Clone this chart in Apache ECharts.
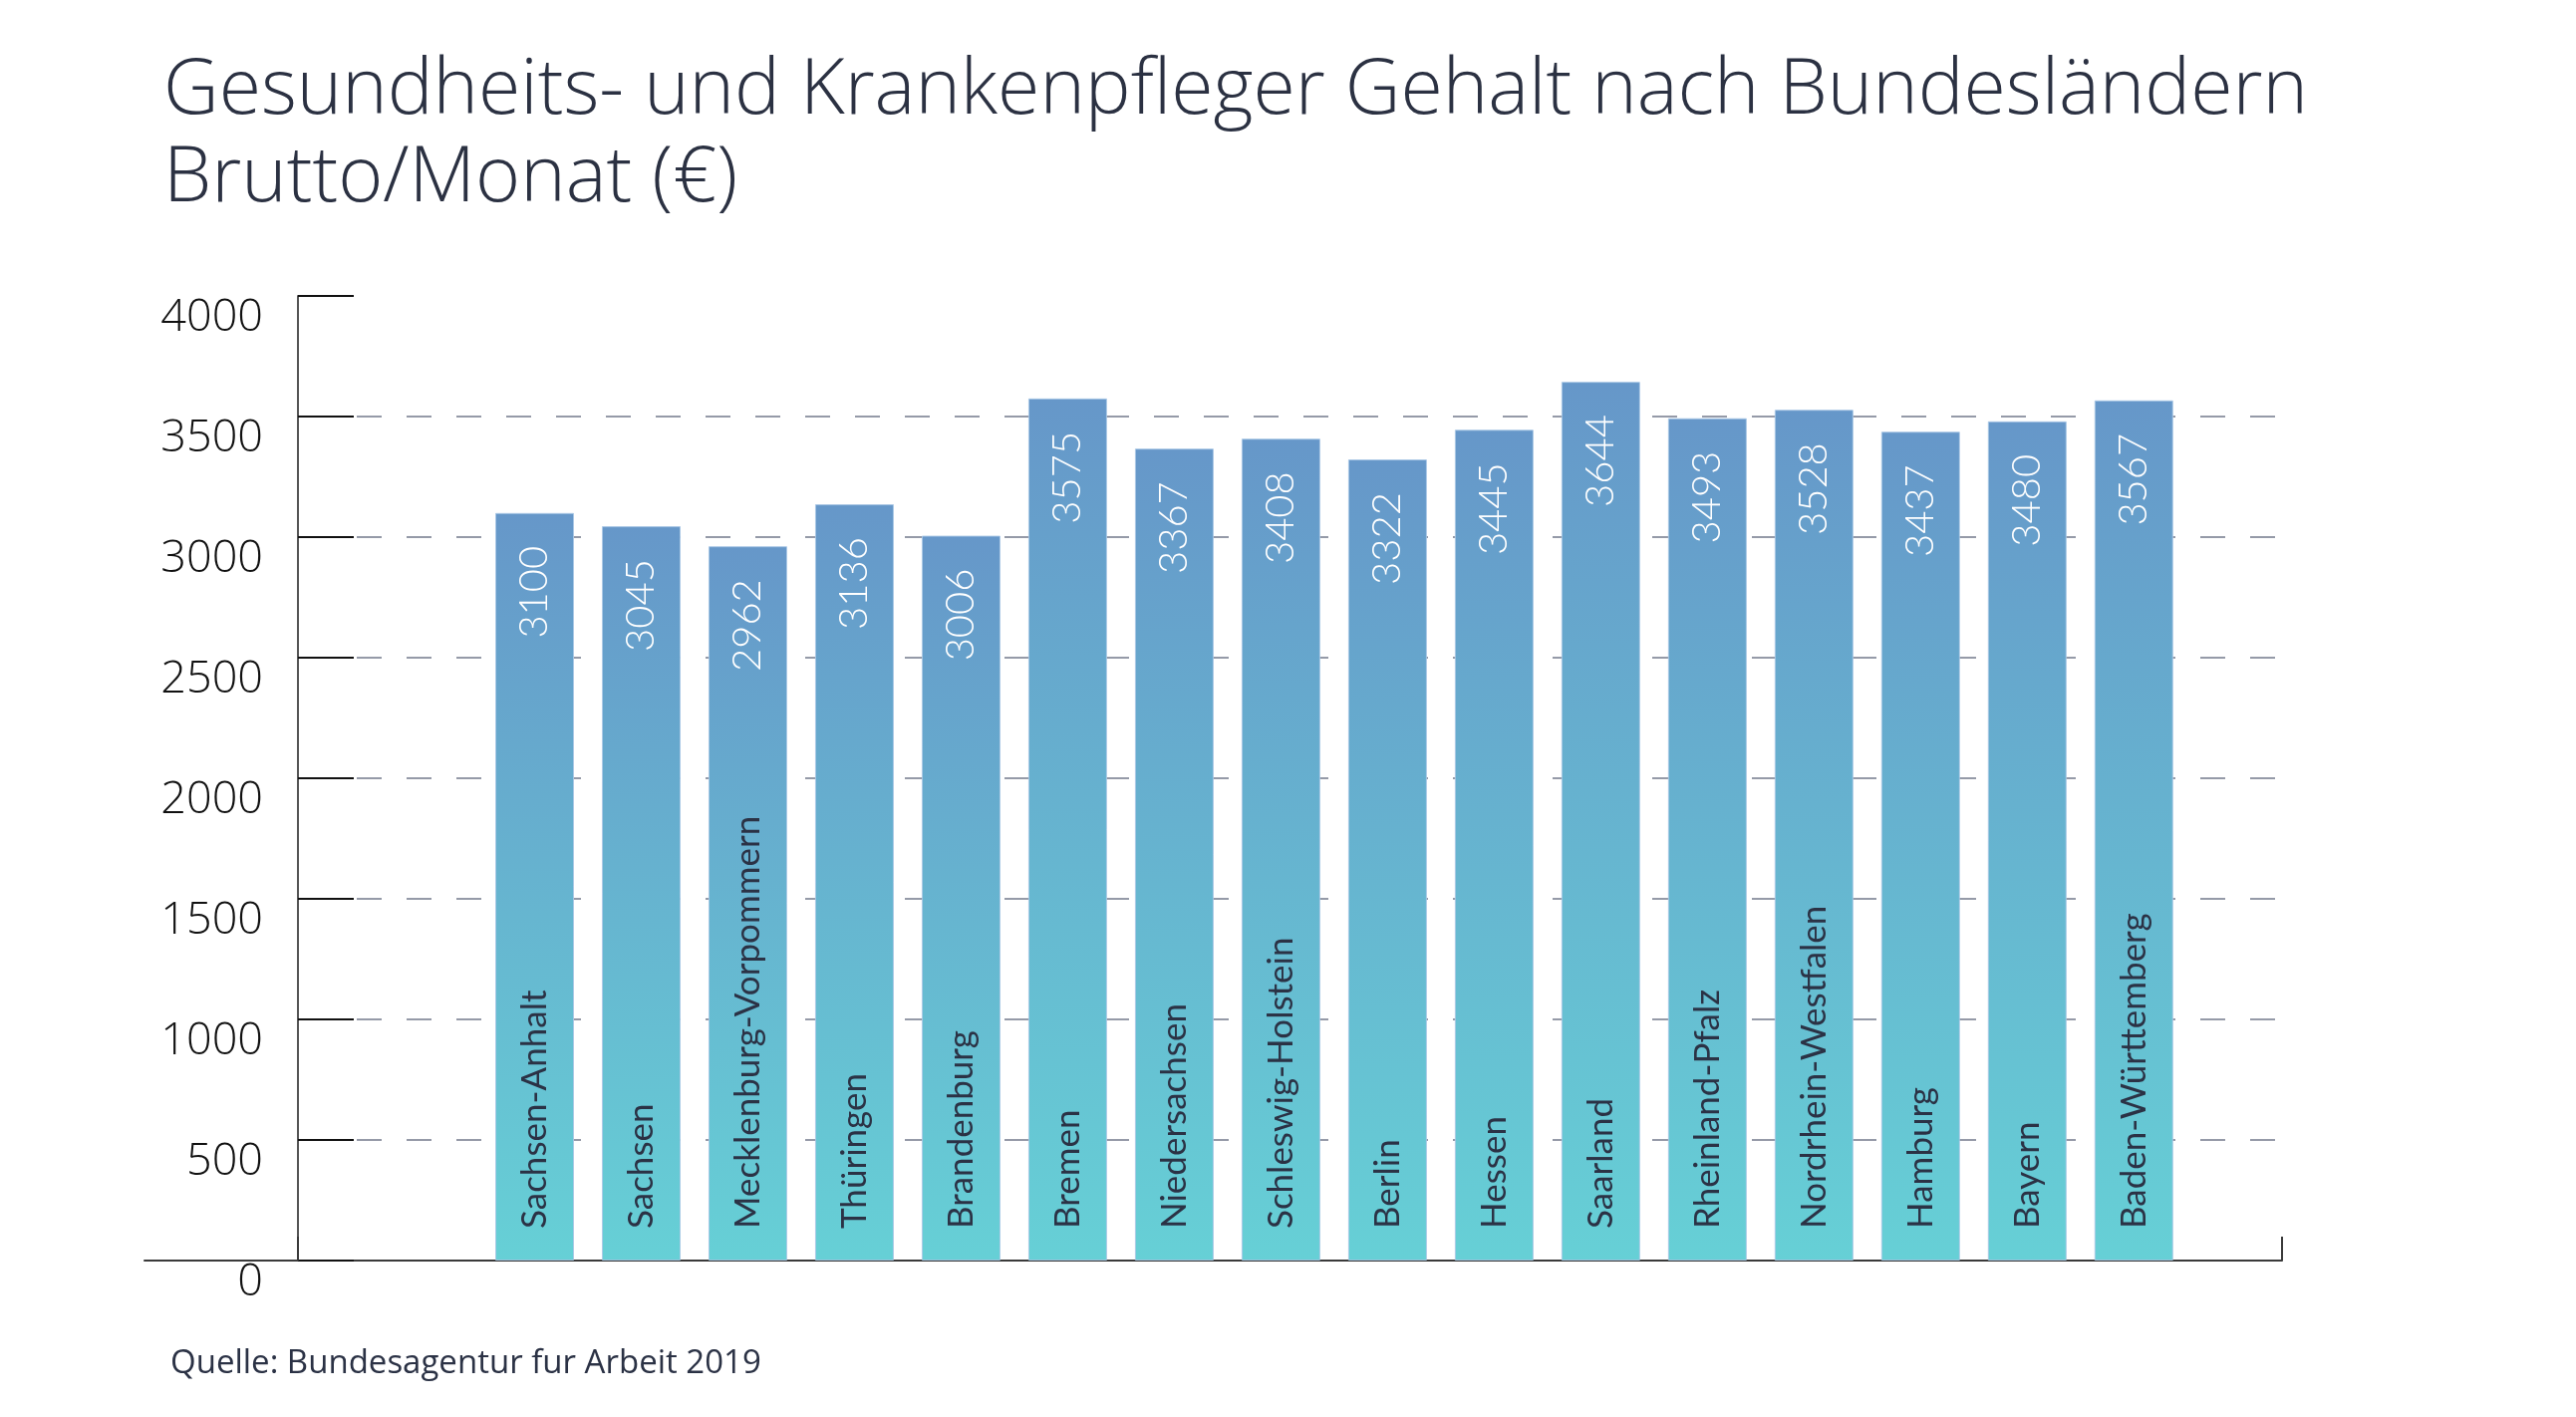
<!DOCTYPE html>
<html>
<head>
<meta charset="utf-8">
<script src="https://cdn.jsdelivr.net/npm/echarts@6/dist/echarts.min.js"></script>
<style>
    html, body { margin: 0; padding: 0; background: #fff; }
    #chart { width: 2585px; height: 1422px; }
</style>
</head>
<body>
<div id="chart"></div>
<script>
const categories = ["Sachsen-Anhalt", "Sachsen", "Mecklenburg-Vorpommern", "Thüringen", "Brandenburg",
    "Bremen", "Niedersachsen", "Schleswig-Holstein", "Berlin", "Hessen", "Saarland",
    "Rheinland-Pfalz", "Nordrhein-Westfalen", "Hamburg", "Bayern", "Baden-Württemberg"];
const salaries = [3100, 3045, 2962, 3136, 3006, 3575, 3367, 3408, 3322, 3445, 3644, 3493, 3528, 3437, 3480, 3567];
const yMin = 0;
const yMax = 4000;
const yStep = 500;

document.addEventListener("DOMContentLoaded", function () {
    let chart = echarts.init(document.getElementById("chart"));

    // bars sit on a value x axis so the empty room left of the first bar matches
    let points = salaries.map((v, i) => [i, v]);

    let barColor = new echarts.graphic.LinearGradient(0, 0, 0, 1, [
        { offset: 0, color: "#6697c9" },
        { offset: 1, color: "#66d0d6" }
    ]);

    let option = {
        animation: false,
        title: [
            {
                text: "Gesundheits- und Krankenpfleger Gehalt nach Bundesländern\nBrutto/Monat (€)",
                left: 159,
                top: 43,
                textStyle: { fontFamily: "Open Sans", fontSize: 77, fontWeight: 300, color: "#2b3142", lineHeight: 88 }
            },
            {
                text: "Quelle: Bundesagentur fur Arbeit 2019",
                left: 166,
                top: 1347,
                textStyle: { fontFamily: "Open Sans", fontSize: 33, fontWeight: "normal", color: "#2b3245" }
            }
        ],
        grid: [
            { left: 299, right: 295, top: 297, bottom: 157 },
            { left: 145, width: 154, top: 297, bottom: 157 } // axis stub left of the y axis
        ],
        xAxis: [
            {
                type: "value",
                gridIndex: 0,
                min: -2.22,
                max: 16.39,
                axisLine: { onZero: false, lineStyle: { color: "#3a3a3a", width: 2 } },
                axisTick: { show: false },
                axisLabel: { show: false },
                splitLine: { show: false }
            },
            {
                type: "value",
                gridIndex: 0,
                position: "bottom",
                min: 0,
                max: 1,
                interval: 1,
                axisLine: { show: false },
                axisTick: { show: true, inside: true, length: 24, lineStyle: { color: "#3a3a3a", width: 2 } },
                axisLabel: { show: false },
                splitLine: { show: false }
            },
            {
                type: "value",
                gridIndex: 1,
                min: 0,
                max: 1,
                axisLine: { onZero: false, lineStyle: { color: "#3a3a3a", width: 2 } },
                axisTick: { show: false },
                axisLabel: { show: false },
                splitLine: { show: false }
            }
        ],
        yAxis: [
            {
                type: "value",
                gridIndex: 0,
                min: yMin,
                max: yMax,
                interval: yStep,
                axisLine: { show: true, onZero: false, lineStyle: { color: "#555", width: 2 } },
                axisTick: { show: true, inside: true, length: 56, lineStyle: { color: "#111", width: 2 } },
                axisLabel: {
                    fontFamily: "Open Sans",
                    fontWeight: 300,
                    fontSize: 45,
                    color: "#111",
                    margin: 35,
                    verticalAlign: "top",
                    formatter: v => String(v)
                },
                splitLine: {
                    show: true,
                    showMinLine: false,
                    showMaxLine: false,
                    lineStyle: { color: "#737a8c", width: 1.5, type: [25, 25], dashOffset: 41 }
                }
            },
            { type: "value", gridIndex: 1, min: 0, max: 1, show: false }
        ],
        series: [
            {
                name: "Gehalt",
                type: "bar",
                xAxisIndex: 0,
                yAxisIndex: 0,
                data: points,
                barWidth: 79,
                itemStyle: { color: barColor, borderColor: "rgba(170,200,230,0.9)", borderWidth: 1 },
                label: {
                    show: true,
                    position: "insideTop",
                    distance: 33,
                    rotate: 90,
                    align: "right",
                    verticalAlign: "middle",
                    color: "#fff",
                    fontFamily: "Lato",
                    fontWeight: 300,
                    fontSize: 40,
                    formatter: p => p.value[1]
                }
            },
            {
                name: "Bundesland",
                type: "bar",
                xAxisIndex: 0,
                yAxisIndex: 0,
                data: points,
                barWidth: 79,
                barGap: "-100%",
                silent: true,
                z: 3,
                itemStyle: { color: "rgba(0,0,0,0)" },
                label: {
                    show: true,
                    position: "insideBottom",
                    distance: 32,
                    rotate: 90,
                    align: "left",
                    verticalAlign: "middle",
                    color: "#2b3245",
                    fontFamily: "Lato",
                    fontSize: 35,
                    formatter: p => categories[p.dataIndex]
                }
            }
        ]
    };
    chart.setOption(option);
});
</script>
</body>
</html>
